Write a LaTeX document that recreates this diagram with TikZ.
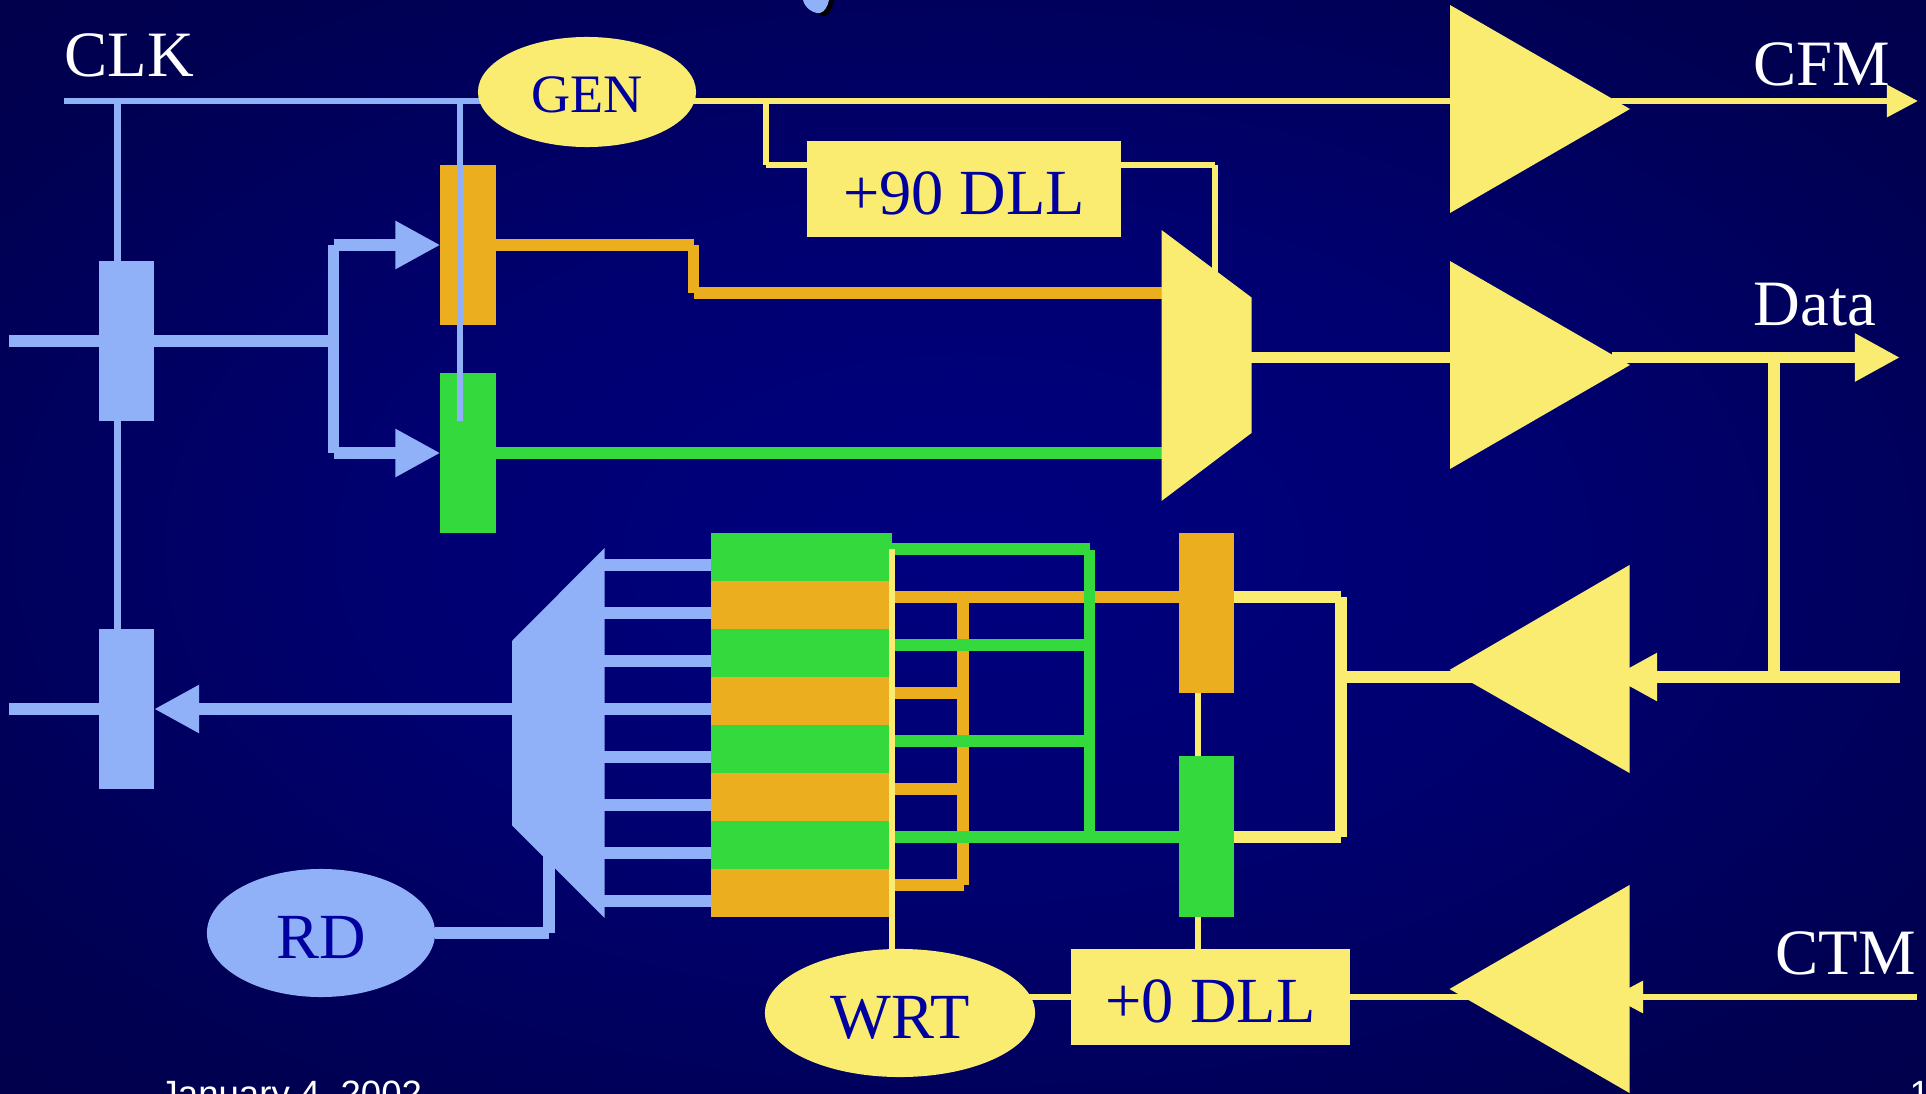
\documentclass[tikz,border=0pt]{standalone}
\usepackage{fontspec}
\usepackage{xcolor}
\usepackage{tikz}
\usetikzlibrary{arrows.meta,shapes.geometric,backgrounds}
\setmainfont{Liberation Serif}
\newfontfamily\footerfont{Liberation Sans}
\definecolor{sigyellow}{HTML}{F9EC70}
\definecolor{sigblue}{HTML}{90B0F8}
\definecolor{sigorange}{HTML}{EAAE1E}
\definecolor{siggreen}{HTML}{33D93D}
\definecolor{inktext}{HTML}{0000A0}
\pgfdeclareradialshading{nightglow}{\pgfpointorigin}{rgb(0bp)=(0,0,.5);
  rgb(15bp)=(0,0,.44); rgb(30bp)=(0,0,.32); rgb(42bp)=(0,0,.27); rgb(50bp)=(0,0,.25)}
\tikzset{
  thinwire/.style={line width=.06cm},
  widewire/.style={line width=.115cm},
  bigtip/.style={-{Triangle[length=.45cm,width=.45cm]}},
  smalltip/.style={-{Triangle[length=.31cm,width=.31cm]}},
  latch/.style={rectangle,inner sep=0pt,outer sep=0pt,minimum width=.55cm,minimum height=1.6cm},
  cellbox/.style={rectangle,inner sep=0pt,outer sep=0pt,minimum width=1.81cm,minimum height=.48cm},
  oval/.style={ellipse,inner sep=0pt,outer sep=0pt,text=inktext,text height=.5cm,text depth=0pt,font=\fontsize{18.3}{20}\selectfont},
  dllbox/.style={rectangle,inner sep=0pt,outer sep=0pt,fill=sigyellow,text=inktext,text height=.5cm,text depth=0pt,font=\fontsize{18.3}{20}\selectfont},
  pinlabel/.style={anchor=base west,inner sep=0pt,text=white,font=\fontsize{18.4}{20}\selectfont},
  footer/.style={anchor=base west,inner sep=0pt,text=white,font=\footerfont\fontsize{10.4}{12}\selectfont}
}
\begin{document}
\begin{tikzpicture}[x=0.01cm,y=-0.01cm]
\useasboundingbox (0,0) rectangle (1926,1094);
\begin{scope}[on background layer]
\shade[shading=nightglow] (0,0) rectangle (1926,1094);
\end{scope}
\coordinate (clkstart) at (64,101);
\coordinate (clktap) at (117.5,101);
\coordinate (sampletap) at (459.5,101);
\coordinate (sampleend) at (459.5,421);
\coordinate (fanup) at (333.5,245);
\coordinate (fandown) at (333.5,453);
\coordinate (dlltap) at (765.5,101);
\coordinate (dllknee) at (765.5,165.5);
\coordinate (selknee) at (1215,165.5);
\coordinate (selend) at (1215,272);
\coordinate (orangeknee) at (693.5,245);
\coordinate (orangelow) at (693.5,293);
\coordinate (muxleft) at (1161.5,293);
\coordinate (muxgreen) at (1161.5,453);
\coordinate (muxout) at (1251,357.5);
\coordinate (bufone) at (1450,101);
\coordinate (buftwo) at (1450,357.5);
\coordinate (cfmfrom) at (1612,101);
\coordinate (cfmtip) at (1918,101);
\coordinate (datafrom) at (1612,357.5);
\coordinate (datatip) at (1900,357.5);
\coordinate (loopfrom) at (1774,357.5);
\coordinate (loopend) at (1774,677);
\coordinate (inright) at (1900,677);
\coordinate (intip) at (1612,677);
\coordinate (inbuf) at (1490,677);
\coordinate (ctmright) at (1917,997);
\coordinate (ctmtip) at (1612,997);
\coordinate (ctmbuf) at (1490,997);
\coordinate (joinmid) at (1341,677);
\coordinate (jointop) at (1341,597);
\coordinate (joinlow) at (1341,837);
\coordinate (greentop) at (1089.5,550);
\coordinate (greenlow) at (1089.5,837);
\coordinate (orangetop) at (963,597);
\coordinate (orangelowb) at (963,885);
\coordinate (strobetop) at (891.5,549);
\coordinate (strobelow) at (891.5,949);
\coordinate (latchtap) at (1197.5,0);
\coordinate (inup) at (9,341);
\coordinate (indown) at (9,709);
\coordinate (demuxout) at (512,709);
\coordinate (rdknee) at (549,933);
\coordinate (rdend) at (549,857);

\fill[sigyellow] (1450,5) -- (1630,109) -- (1450,213) -- cycle;
\fill[sigyellow] (1450,261) -- (1630,365) -- (1450,469) -- cycle;
\fill[sigyellow] (1629.5,565) -- (1449.5,670) -- (1629.5,773) -- cycle;
\fill[sigyellow] (1629.5,885) -- (1449.5,989) -- (1629.5,1093) -- cycle;
\fill[sigyellow] (1161.5,230) -- (1251.5,297.5) -- (1251.5,433) -- (1161.5,501) -- cycle;
\fill[sigblue] (604.5,548) -- (512,641) -- (512,825.5) -- (604.5,918) -- cycle;
\fill[black] (808,0) .. controls (810,10) and (820,17) .. (825,16) .. controls (830,15) and (833,6) .. (834,0) -- cycle;
\fill[sigblue] (803,0) .. controls (805,9) and (815,14) .. (820,13) .. controls (825,12) and (828,5) .. (829,0) -- cycle;

\node[oval,fill=sigyellow,minimum width=2.18cm,minimum height=1.1cm,text height=.41cm,font=\fontsize{15.4}{18}\selectfont] (gen) at (587,92) {GEN};
\node[oval,fill=sigblue,minimum width=2.28cm,minimum height=1.28cm] (rd) at (321,933) {RD};
\node[oval,fill=sigyellow,minimum width=2.7cm,minimum height=1.28cm] (wrt) at (900,1013) {WRT};
\node[dllbox,minimum width=3.14cm,minimum height=.96cm] (dllninety) at (964,189) {+90 DLL};
\node[dllbox,minimum width=2.79cm,minimum height=.955cm] (dllzero) at (1210.5,997) {+0 DLL};
\node[latch,fill=sigblue] (inlatch) at (126.5,341) {};
\node[latch,fill=sigblue] (outlatch) at (126.5,709) {};
\node[latch,fill=sigorange] (sampleor) at (468,245) {};
\node[latch,fill=siggreen] (samplegr) at (468,453) {};
\node[latch,fill=sigorange] (writeor) at (1206.5,613) {};
\node[latch,fill=siggreen] (writegr) at (1206.5,836.5) {};
\foreach \i/\col in {0/siggreen,1/sigorange,2/siggreen,3/sigorange,4/siggreen,5/sigorange,6/siggreen,7/sigorange}{
  \node[cellbox,fill=\col] (cell\i) at (801.5,557+48*\i) {};
}
\node[pinlabel] (clklabel) at (64,77) {CLK};
\node[pinlabel] (cfmlabel) at (1753,86) {CFM};
\node[pinlabel] (datalabel) at (1753,326) {Data};
\node[pinlabel] (ctmlabel) at (1775,974) {CTM};
\node[footer] (datelabel) at (159,1106) {January 4, 2002};
\node[footer] (pagelabel) at (1909,1106) {1};

\begin{scope}[on background layer]
\draw[sigblue,thinwire] (clkstart) -- (clkstart -| gen);
\draw[sigblue,thinwire] (clktap) -- (clktap |- inlatch.north);
\draw[sigblue,thinwire] (clktap |- inlatch.south) -- (clktap |- outlatch.north);
\draw[sigblue,widewire] (inup) -- (fanup |- inlatch);
\draw[sigblue,widewire] (fanup) -- (fandown);
\draw[sigblue,widewire,bigtip] (fanup) -- (sampleor.west);
\draw[sigblue,widewire,bigtip] (fandown) -- (samplegr.west);
\draw[sigblue,widewire] (indown) -- (outlatch.west);
\draw[sigblue,widewire,bigtip] (demuxout) -- (outlatch.east);
\foreach \i in {0,...,7}{
  \draw[sigblue,widewire] (cell\i.west) ++(0,8) -- ++(-107,0);
}
\draw[sigblue,widewire] (rd) -- (rdknee) (rdknee) -- (rdend);
\draw[sigorange,widewire] (sampleor.east) -- (orangeknee) (orangeknee) -- (orangelow) (orangelow) -- (muxleft);
\draw[siggreen,widewire] (samplegr.east) -- (muxgreen);
\draw[sigyellow,thinwire] (clkstart -| gen) -- (bufone);
\draw[sigyellow,thinwire] (dlltap) -- (dllknee) (dllknee) -- (dllknee -| dllninety.west);
\draw[sigyellow,thinwire] (selknee -| dllninety.east) -- (selknee) (selknee) -- (selend);
\draw[sigyellow,thinwire,smalltip] (cfmfrom) -- (cfmtip);
\draw[sigyellow,widewire] (muxout) -- (buftwo);
\draw[sigyellow,widewire,bigtip] (datafrom) -- (datatip);
\draw[sigyellow,widewire] (loopfrom) -- (loopend);
\draw[sigyellow,widewire,bigtip] (inright) -- (intip);
\draw[sigyellow,widewire] (joinmid) -- (inbuf);
\draw[sigyellow,thinwire,smalltip] (ctmright) -- (ctmtip);
\draw[sigyellow,thinwire] (dllzero.east) -- (ctmbuf);
\draw[sigyellow,thinwire] (wrt |- dllzero) -- (dllzero.west);
\draw[sigyellow,widewire] (jointop -| writeor.east) -- (jointop) (jointop) -- (joinlow) (joinlow) -- (joinlow -| writegr.east);
\draw[sigyellow,thinwire] (latchtap |- writeor.south) -- (latchtap |- writegr.north);
\draw[sigyellow,thinwire] (latchtap |- writegr.south) -- (latchtap |- dllzero.north);
\foreach \i in {1,3,5,7}{
  \draw[sigorange,widewire] (cell\i.east) ++(0,-8) -- ++(71.5,0);
}
\draw[sigorange,widewire] (orangetop) -- (orangelowb);
\draw[sigorange,widewire] (orangetop) -- (orangetop -| writeor.west);
\foreach \i in {0,2,4,6}{
  \draw[siggreen,widewire] (cell\i.east) ++(0,-8) -- ++(197.5,0);
}
\draw[siggreen,widewire] (greentop) -- (greenlow);
\draw[siggreen,widewire] (greenlow) -- (greenlow -| writegr.west);
\end{scope}
\draw[sigblue,thinwire] (sampletap) -- (sampleend);
\draw[sigyellow,thinwire] (strobetop) -- (strobelow);
\end{tikzpicture}
\end{document}
